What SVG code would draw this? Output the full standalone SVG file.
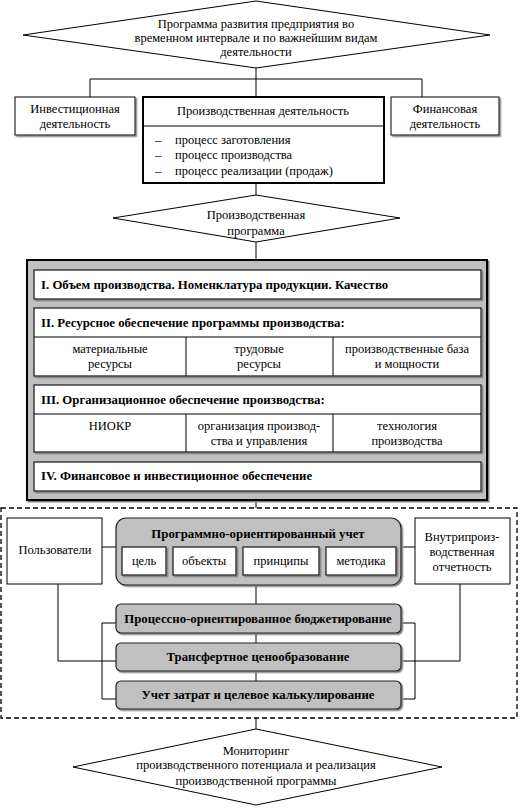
<svg xmlns="http://www.w3.org/2000/svg" width="520" height="808" viewBox="0 0 520 808" font-family="Liberation Serif, serif" font-size="12.5">
<defs>
<filter id="sh" x="-5%" y="-5%" width="115%" height="130%"><feDropShadow dx="1.5" dy="1.5" stdDeviation="0" flood-color="#808080"/></filter>
</defs>
<style>
text{fill:#000;text-anchor:middle}
.b{font-weight:bold;font-size:12.8px}
.l{text-anchor:start}
.box{fill:#fff;stroke:#000;stroke-width:1}
.in{fill:#fff;stroke:#222;stroke-width:1.3;filter:url(#sh)}
.thick{fill:#fff;stroke:#000;stroke-width:2}
.gray{fill:#c0c0c0;stroke:#222;stroke-width:1.2;filter:url(#sh)}
.conn{fill:none;stroke:#000;stroke-width:1}
</style>
<rect width="520" height="808" fill="#fff"/>
<g id="connectors">
<path class="conn" d="M256,68V79M90,79H422M90,79V97M256,79V97M422,79V97"/>
<path class="conn" d="M256,183V195M256,242V260M256,500V508"/>
<path class="conn" d="M102,547H116M401,547H415"/>
<path class="conn" d="M58,584V661H116M460,584V661H401"/>
<path class="conn" d="M256,585V604M256,633V643M256,671V681"/>
<path class="conn" d="M116,623H102V699H116M401,623H415V699H401"/>
<path class="conn" d="M256,718V729"/>
</g>
<g id="top">
<polygon class="box" points="256,1 490,35 256,68 23,35"/>
<text x="256" y="28">Программа развития предприятия во</text>
<text x="256" y="42">временном интервале и по важнейшим видам</text>
<text x="256" y="56">деятельности</text>
</g>
<g id="invest">
<rect class="box" x="15" y="97" width="120" height="38" filter="url(#sh)"/>
<text x="75" y="113">Инвестиционная</text>
<text x="75" y="128">деятельность</text>
</g>
<g id="prod">
<rect class="thick" x="143" y="97" width="241" height="86"/>
<line class="conn" x1="143" y1="126" x2="384" y2="126"/>
<text x="263" y="115">Производственная деятельность</text>
<text x="155" y="144" class="l">–</text><text x="175" y="144" class="l">процесс заготовления</text>
<text x="155" y="159" class="l">–</text><text x="175" y="159" class="l">процесс производства</text>
<text x="155" y="175" class="l">–</text><text x="175" y="175" class="l">процесс реализации (продаж)</text>
</g>
<g id="fin">
<rect class="box" x="391" y="97" width="108" height="38" filter="url(#sh)"/>
<text x="445" y="113">Финансовая</text>
<text x="445" y="128">деятельность</text>
</g>
<g id="prodprog">
<polygon class="box" points="256,195 400,218 256,242 113,218"/>
<text x="256" y="219">Производственная</text>
<text x="256" y="235">программа</text>
</g>
<g id="program">
<rect x="27" y="260" width="460" height="240" fill="#c0c0c0" stroke="#000" stroke-width="2" filter="url(#sh)"/>
<rect class="in" x="34" y="270" width="447" height="29"/>
<text x="41" y="289" class="b l">I. Объем производства. Номенклатура продукции. Качество</text>
<rect class="in" x="34" y="308" width="447" height="68"/>
<path class="conn" d="M34,337H481M186,337V376M333,337V376"/>
<text x="41" y="327" class="b l">II. Ресурсное обеспечение программы производства:</text>
<text x="110" y="353">материальные</text><text x="110" y="368">ресурсы</text>
<text x="259" y="353">трудовые</text><text x="259" y="368">ресурсы</text>
<text x="407" y="353">производственные база</text><text x="407" y="368">и мощности</text>
<rect class="in" x="34" y="385" width="447" height="67"/>
<path class="conn" d="M34,414H481M186,414V452M333,414V452"/>
<text x="41" y="404" class="b l">III. Организационное обеспечение производства:</text>
<text x="110" y="430">НИОКР</text>
<text x="259" y="430">организация производ-</text><text x="259" y="445">ства и управления</text>
<text x="407" y="430">технология</text><text x="407" y="445">производства</text>
<rect class="in" x="34" y="462" width="447" height="29"/>
<text x="41" y="480" class="b l">IV. Финансовое и инвестиционное обеспечение</text>
</g>
<g id="dashed">
<rect x="1" y="508" width="516" height="210" fill="none" stroke="#000" stroke-width="1.3" stroke-dasharray="5,3"/>
</g>
<g id="users">
<rect class="box" x="7" y="518" width="95" height="66"/>
<text x="55" y="554">Пользователи</text>
</g>
<g id="report">
<rect class="box" x="415" y="518" width="95" height="66"/>
<text x="462" y="541">Внутрипроиз-</text>
<text x="462" y="556">водственная</text>
<text x="462" y="571">отчетность</text>
</g>
<g id="poa">
<rect class="gray" x="116" y="518" width="285" height="67" rx="10"/>
<text x="258" y="538" class="b">Программно-ориентированный учет</text>
<rect class="in" x="122" y="547" width="44" height="28"/><text x="144" y="565">цель</text>
<rect class="in" x="173" y="547" width="63" height="28"/><text x="204" y="565">объекты</text>
<rect class="in" x="243" y="547" width="76" height="28"/><text x="281" y="565">принципы</text>
<rect class="in" x="326" y="547" width="70" height="28"/><text x="361" y="565">методика</text>
</g>
<g id="budget">
<rect class="gray" x="116" y="604" width="285" height="29" rx="5"/>
<text x="258" y="623" class="b">Процессно-ориентированное бюджетирование</text>
</g>
<g id="transfer">
<rect class="gray" x="116" y="643" width="285" height="28" rx="5"/>
<text x="258" y="661" class="b">Трансфертное ценообразование</text>
</g>
<g id="cost">
<rect class="gray" x="116" y="681" width="285" height="28" rx="5"/>
<text x="258" y="699" class="b">Учет затрат и целевое калькулирование</text>
</g>
<g id="monitor">
<polygon class="box" points="256,729 442,767 256,805 73,767"/>
<text x="256" y="755">Мониторинг</text>
<text x="256" y="769">производственного потенциала и реализация</text>
<text x="256" y="785">производственной программы</text>
</g>
</svg>
